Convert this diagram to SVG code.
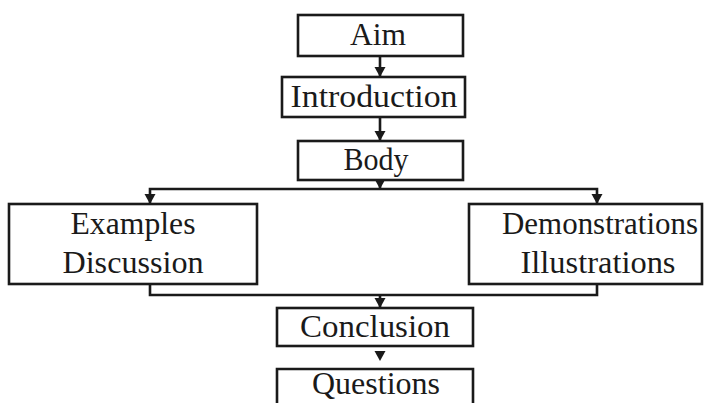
<svg xmlns="http://www.w3.org/2000/svg" width="707" height="403" viewBox="0 0 707 403">
<style>
.box{fill:#fff;stroke:#1a1a1a;stroke-width:2.6}
.t{font-family:"Liberation Serif","Times New Roman",serif;font-size:32px;fill:#1a1a1a;text-anchor:middle}
.c{fill:none;stroke:#1a1a1a;stroke-width:2.6}
.head{fill:#1a1a1a}
</style>
<defs>
<marker id="ah" markerUnits="userSpaceOnUse" markerWidth="12" markerHeight="12" viewBox="0 0 12 12" refX="10" refY="6" orient="auto">
<path d="M0,0.5 L10,6 L0,11.5 Z" class="head"/>
</marker>
</defs>
<rect width="707" height="403" fill="#fff"/>
<g id="connectors">
<path class="c" d="M380,57 V77" marker-end="url(#ah)"/>
<path class="c" d="M380,117 V141" marker-end="url(#ah)"/>
<path class="c" d="M380,180 V189" marker-end="url(#ah)"/>
<path class="c" d="M380,189 H150 V204" marker-end="url(#ah)"/>
<path class="c" d="M380,189 H597 V204" marker-end="url(#ah)"/>
<path class="c" d="M150,284 V295 H597 V284"/>
<path class="c" d="M380,295 V308" marker-end="url(#ah)"/>
<polygon class="head" points="374.5,351 385.5,351 380,361"/>
</g>
<g id="aim">
<rect class="box" x="298" y="15" width="165" height="41"/>
<text class="t" x="378" y="45" textLength="56" lengthAdjust="spacingAndGlyphs">Aim</text>
</g>
<g id="introduction">
<rect class="box" x="282" y="77" width="183" height="40"/>
<text class="t" x="374" y="107" textLength="167" lengthAdjust="spacingAndGlyphs">Introduction</text>
</g>
<g id="body">
<rect class="box" x="298" y="141" width="165" height="39"/>
<text class="t" x="376" y="170" textLength="65" lengthAdjust="spacingAndGlyphs">Body</text>
</g>
<g id="examples">
<rect class="box" x="9" y="204" width="248" height="80"/>
<text class="t" x="133" y="234" textLength="125" lengthAdjust="spacingAndGlyphs">Examples</text>
<text class="t" x="133" y="273" textLength="141" lengthAdjust="spacingAndGlyphs">Discussion</text>
</g>
<g id="demonstrations">
<rect class="box" x="469" y="204" width="233" height="80"/>
<text class="t" x="600" y="234" textLength="196" lengthAdjust="spacingAndGlyphs">Demonstrations</text>
<text class="t" x="598" y="273" textLength="155" lengthAdjust="spacingAndGlyphs">Illustrations</text>
</g>
<g id="conclusion">
<rect class="box" x="277" y="308" width="196" height="38"/>
<text class="t" x="375" y="337" textLength="150" lengthAdjust="spacingAndGlyphs">Conclusion</text>
</g>
<g id="questions">
<path class="box" d="M277,405 V369 H473 V405"/>
<text class="t" x="376" y="394" textLength="128" lengthAdjust="spacingAndGlyphs">Questions</text>
</g>
</svg>
